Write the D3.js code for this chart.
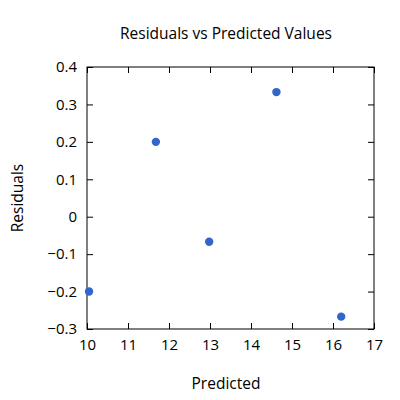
<!DOCTYPE html>
<html><head><meta charset="utf-8">
<script src="https://cdn.jsdelivr.net/npm/d3@7"></script>
<style>body{margin:0;background:#fff}text{font-family:"Open Sans","Noto Sans",sans-serif;fill:#000}</style>
</head><body><svg id="c" width="400" height="400"></svg>
<script>
const predicted = [10.05, 11.68, 12.98, 14.62, 16.2];
const residuals = [-0.2, 0.2, -0.067, 0.333, -0.267];
const xTicks = [10,11,12,13,14,15,16,17];
const yTicks = [-0.3,-0.2,-0.1,0,0.1,0.2,0.3,0.4];
const svg = d3.select("#c");
const L=87,R=374,T=67,B=329;
const x=d3.scaleLinear().domain([10,17]).range([L,R]);
const y=d3.scaleLinear().domain([-0.3,0.4]).range([B,T]);
const fmt=d=>d===0?"0":d3.format("")(+d.toFixed(1));
svg.append("g").attr("transform",`translate(0,${B})`).call(d3.axisBottom(x).tickValues(xTicks).tickSize(-6).tickPadding(10).tickFormat(d3.format("d")));
svg.append("g").attr("transform",`translate(0,${T})`).call(d3.axisTop(x).tickValues(xTicks).tickSize(-6).tickFormat(""));
svg.append("g").attr("transform",`translate(${L},0)`).call(d3.axisLeft(y).tickValues(yTicks).tickSize(-6).tickPadding(10).tickFormat(fmt));
svg.append("g").attr("transform",`translate(${R},0)`).call(d3.axisRight(y).tickValues(yTicks).tickSize(-6).tickFormat(""));
svg.selectAll(".domain").remove();
svg.selectAll(".tick text").attr("font-size",15).style("font-family","'Open Sans','Noto Sans',sans-serif");
svg.append("rect").attr("x",L).attr("y",T).attr("width",R-L).attr("height",B-T).attr("fill","none").attr("stroke","#000");
svg.selectAll("circle").data(predicted).join("circle").attr("cx",d=>x(d)).attr("cy",(d,i)=>y(residuals[i])).attr("r",4.2).attr("fill","#3366cc");
svg.append("text").attr("x",226).attr("y",39).attr("text-anchor","middle").attr("font-size",15.5).text("Residuals vs Predicted Values");
svg.append("text").attr("x",226).attr("y",389).attr("text-anchor","middle").attr("font-size",15.5).text("Predicted");
svg.append("text").attr("transform","translate(23,198) rotate(-90)").attr("text-anchor","middle").attr("font-size",15.5).text("Residuals");
</script></body></html>
